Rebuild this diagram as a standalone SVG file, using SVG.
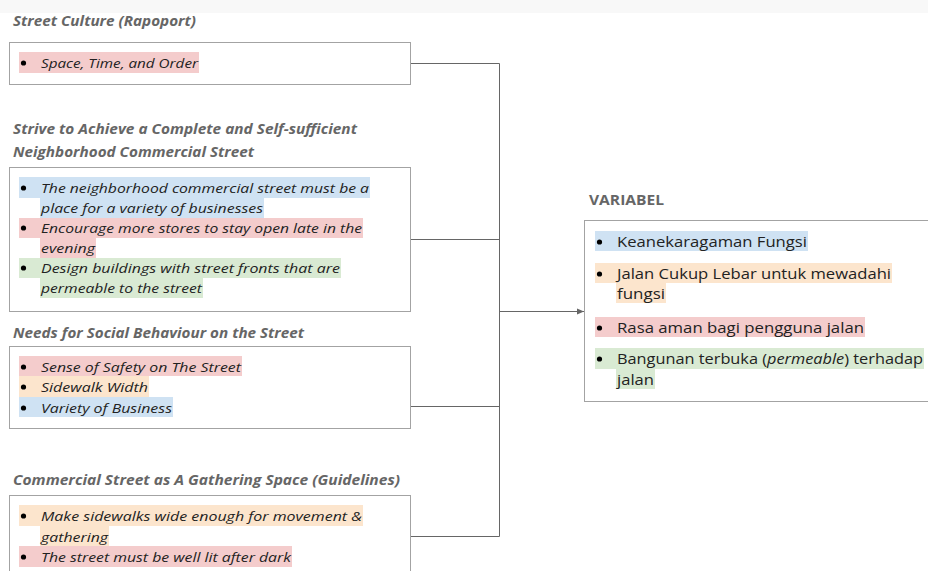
<svg xmlns="http://www.w3.org/2000/svg" width="928" height="571" viewBox="0 0 928 571">
<style>
.box{fill:#fff;stroke:#a3a3a3;stroke-width:1}
.ttl{font-family:"Open Sans","Liberation Sans",sans-serif;font-size:13.5px;font-weight:bold;font-style:italic;fill:#666}
.it{font-family:"Open Sans","Liberation Sans",sans-serif;font-size:13.5px;font-style:italic;fill:#222}
.vt{font-family:"Open Sans","Liberation Sans",sans-serif;font-size:14.5px;fill:#222}
.vh{font-family:"Open Sans","Liberation Sans",sans-serif;font-size:13.5px;font-weight:bold;fill:#666}
.b{fill:#cfe2f3}.r{fill:#f4cccc}.g{fill:#d9ead3}.o{fill:#fce5cd}
.dot{fill:#000}
.con{fill:none;stroke:#666;stroke-width:1}
</style>
<defs>
<marker id="arr" markerWidth="8" markerHeight="8" refX="7" refY="4" orient="auto" markerUnits="userSpaceOnUse">
<path d="M0,1 L7,4 L0,7 Z" fill="#666"/>
</marker>
</defs>
<rect x="0" y="0" width="928" height="13" fill="#f8f8f8"/>
<rect x="0" y="13" width="928" height="558" fill="#fff"/>

<g id="connectors">
<path class="con" d="M410,63.5 H499.5 V536.5 H410"/>
<path class="con" d="M410,239.5 H499.5"/>
<path class="con" d="M410,406.5 H499.5"/>
<path class="con" d="M499.5,311.5 H584" marker-end="url(#arr)"/>
</g>

<g id="street-culture">
<text class="ttl" x="13" y="26" textLength="183" lengthAdjust="spacingAndGlyphs">Street Culture (Rapoport)</text>
<rect class="box" x="9.5" y="42.5" width="401" height="42"/>
<rect class="r" x="19" y="52" width="180" height="21"/>
<circle class="dot" cx="23.5" cy="63" r="2.6"/>
<text class="it" x="41" y="68" textLength="157" lengthAdjust="spacingAndGlyphs">Space, Time, and Order</text>
</g>

<g id="strive">
<text class="ttl" x="13" y="134" textLength="344" lengthAdjust="spacingAndGlyphs">Strive to Achieve a Complete and Self-sufficient</text>
<text class="ttl" x="13" y="157" textLength="241" lengthAdjust="spacingAndGlyphs">Neighborhood Commercial Street</text>
<rect class="box" x="9.5" y="167.5" width="401" height="144"/>
<rect class="b" x="19" y="177" width="351" height="21"/>
<rect class="b" x="40" y="198" width="224" height="20"/>
<rect class="r" x="19" y="218" width="344" height="20"/>
<rect class="r" x="40" y="238" width="56" height="20"/>
<rect class="g" x="19" y="258" width="322" height="20"/>
<rect class="g" x="40" y="278" width="163" height="20"/>
<circle class="dot" cx="23.5" cy="188" r="2.6"/>
<circle class="dot" cx="23.5" cy="228" r="2.6"/>
<circle class="dot" cx="23.5" cy="268" r="2.6"/>
<text class="it" x="41" y="193" textLength="328" lengthAdjust="spacingAndGlyphs">The neighborhood commercial street must be a</text>
<text class="it" x="41" y="213" textLength="222" lengthAdjust="spacingAndGlyphs">place for a variety of businesses</text>
<text class="it" x="41" y="233" textLength="321" lengthAdjust="spacingAndGlyphs">Encourage more stores to stay open late in the</text>
<text class="it" x="41" y="253" textLength="54" lengthAdjust="spacingAndGlyphs">evening</text>
<text class="it" x="41" y="273" textLength="299" lengthAdjust="spacingAndGlyphs">Design buildings with street fronts that are</text>
<text class="it" x="41" y="293" textLength="161" lengthAdjust="spacingAndGlyphs">permeable to the street</text>
</g>

<g id="needs">
<text class="ttl" x="13" y="338" textLength="291" lengthAdjust="spacingAndGlyphs">Needs for Social Behaviour on the Street</text>
<rect class="box" x="9.5" y="346.5" width="401" height="82"/>
<rect class="r" x="19" y="356" width="223" height="20"/>
<rect class="o" x="19" y="376" width="130" height="21"/>
<rect class="b" x="19" y="397" width="154" height="20"/>
<circle class="dot" cx="23.5" cy="367" r="2.6"/>
<circle class="dot" cx="23.5" cy="387" r="2.6"/>
<circle class="dot" cx="23.5" cy="408" r="2.6"/>
<text class="it" x="41" y="372" textLength="200" lengthAdjust="spacingAndGlyphs">Sense of Safety on The Street</text>
<text class="it" x="41" y="392" textLength="107" lengthAdjust="spacingAndGlyphs">Sidewalk Width</text>
<text class="it" x="41" y="413" textLength="131" lengthAdjust="spacingAndGlyphs">Variety of Business</text>
</g>

<g id="gathering">
<text class="ttl" x="13" y="485" textLength="387" lengthAdjust="spacingAndGlyphs">Commercial Street as A Gathering Space (Guidelines)</text>
<rect class="box" x="9.5" y="495.5" width="401" height="100"/>
<rect class="o" x="19" y="505" width="344" height="21"/>
<rect class="o" x="40" y="526" width="69" height="20"/>
<rect class="r" x="19" y="546" width="273" height="21"/>
<circle class="dot" cx="23.5" cy="516" r="2.6"/>
<circle class="dot" cx="23.5" cy="557" r="2.6"/>
<text class="it" x="41" y="521" textLength="321" lengthAdjust="spacingAndGlyphs">Make sidewalks wide enough for movement &amp;</text>
<text class="it" x="41" y="542" textLength="67" lengthAdjust="spacingAndGlyphs">gathering</text>
<text class="it" x="41" y="562" textLength="250" lengthAdjust="spacingAndGlyphs">The street must be well lit after dark</text>
</g>

<g id="variabel">
<text class="vh" x="589" y="205" textLength="75" lengthAdjust="spacingAndGlyphs">VARIABEL</text>
<rect class="box" x="584.5" y="220.5" width="350" height="181"/>
<rect class="b" x="595" y="231" width="213" height="20"/>
<rect class="o" x="595" y="263" width="297" height="20"/>
<rect class="o" x="616" y="283" width="50" height="20"/>
<rect class="r" x="595" y="317" width="270" height="20"/>
<rect class="g" x="595" y="348" width="329" height="21"/>
<rect class="g" x="616" y="369" width="39" height="20"/>
<circle class="dot" cx="599.5" cy="242" r="2.6"/>
<circle class="dot" cx="599.5" cy="274" r="2.6"/>
<circle class="dot" cx="599.5" cy="328" r="2.6"/>
<circle class="dot" cx="599.5" cy="359" r="2.6"/>
<text class="vt" x="617" y="247" textLength="190" lengthAdjust="spacingAndGlyphs">Keanekaragaman Fungsi</text>
<text class="vt" x="617" y="279" textLength="274" lengthAdjust="spacingAndGlyphs">Jalan Cukup Lebar untuk mewadahi</text>
<text class="vt" x="617" y="299" textLength="48" lengthAdjust="spacingAndGlyphs">fungsi</text>
<text class="vt" x="617" y="333" textLength="247" lengthAdjust="spacingAndGlyphs">Rasa aman bagi pengguna jalan</text>
<text class="vt" x="617" y="364" textLength="306" lengthAdjust="spacingAndGlyphs">Bangunan terbuka (<tspan font-style="italic">permeable</tspan>) terhadap</text>
<text class="vt" x="617" y="385" textLength="37" lengthAdjust="spacingAndGlyphs">jalan</text>
</g>
</svg>
